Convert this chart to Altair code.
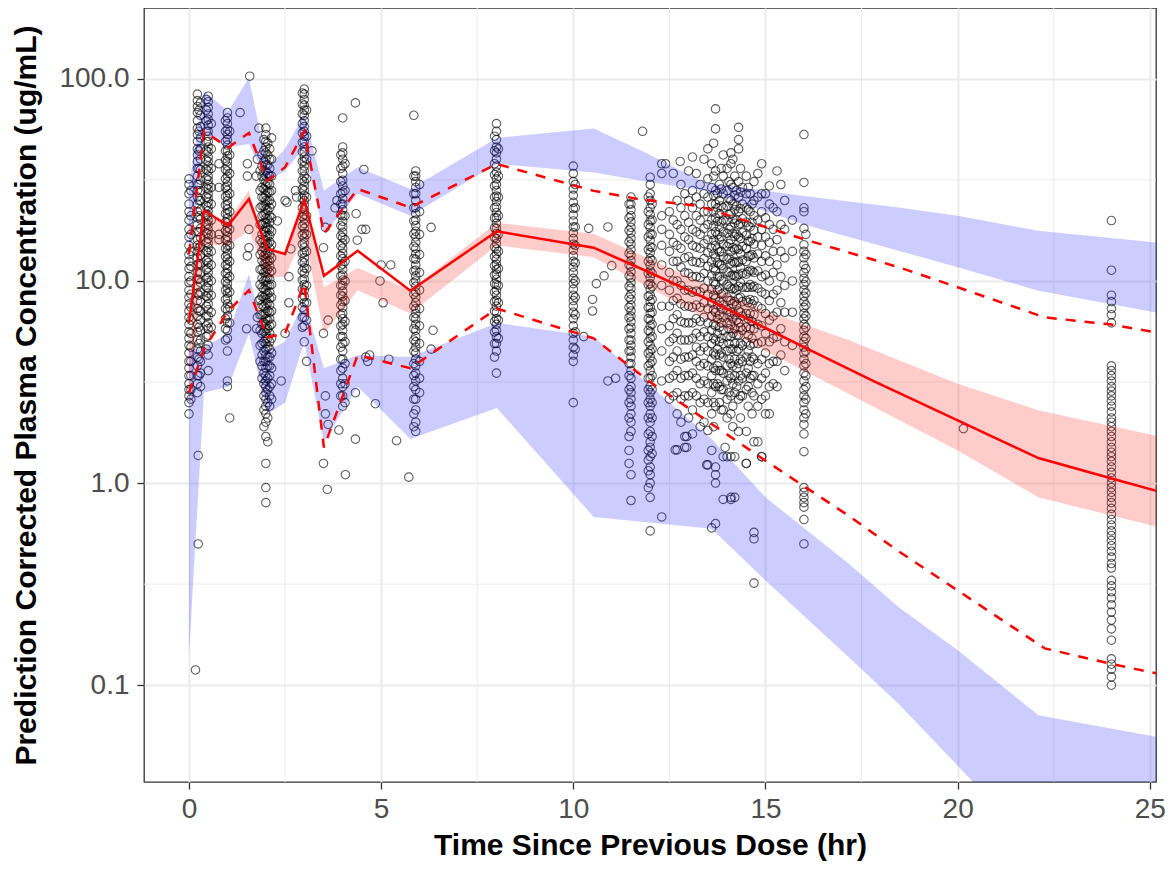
import altair as alt
import pandas as pd

conc_t000 = [32, 30, 27, 24, 22, 20, 18, 16.5, 15, 13.5, 12.5, 11.5, 10.5, 9.8, 9.0, 8.3, 7.7, 7.1, 6.6, 6.1,
             5.6, 5.2, 4.8, 4.4, 4.0, 3.7, 3.4, 3.1, 2.9, 2.7, 2.5, 2.2]
conc_t005 = [28, 21, 17, 14, 11.8, 10, 8.6, 7.4, 6.4, 5.5, 4.7, 4.0, 3.4, 2.9, 2.6]
conc_t022 = [84, 78, 73, 68, 62, 57, 53, 49, 45, 42, 39, 36, 33, 30, 28, 26, 24, 22, 20.5, 19, 17.5, 16, 15,
             14, 13, 12, 11, 10.2, 9.4, 8.7, 8.0, 7.3, 6.7, 6.1, 5.6, 5.1, 4.6, 4.2, 3.8, 3.4, 3.1, 2.8]
conc_t026 = [70, 55, 44, 36, 30, 25, 21, 17.5, 14.6, 12.2, 10.2, 8.5, 7.1, 5.9, 4.9, 4.1, 3.4]
conc_t030 = [76, 66, 58, 51, 45, 40, 35.5, 31.5, 28, 25, 22.5, 20.2, 18.2, 16.4, 14.8, 13.4, 12.1, 10.9, 9.8,
             8.8, 7.9, 7.1, 6.4, 5.7, 5.1, 4.5, 4.0, 3.5, 3.0]
conc_t045 = [79, 70, 62, 55, 49, 44, 39.5, 35.5, 32, 28.8, 26, 23.5, 21.2, 19.1, 17.2, 15.5, 14, 12.6, 11.4,
             10.3, 9.3, 8.4, 7.5, 6.7, 6.0, 5.3, 4.6]
conc_t050 = [82, 77, 72, 67, 63, 59, 55, 52, 49, 46, 43.5, 41, 39, 37, 35, 33, 31.5, 30, 28.5, 27, 25.7, 24.5,
             23.3, 22.2, 21.1, 20, 19, 18, 17.1, 16.2, 15.4, 14.6, 13.8, 13, 12.3, 11.6, 11, 10.4, 9.8, 9.2,
             8.7, 8.2, 7.7, 7.2, 6.7, 6.2, 5.8, 5.4, 4.8, 4.3, 3.6]
conc_t058 = [60, 45, 36, 29, 24, 20, 17, 14, 12, 10, 8.5, 7, 5.9]
conc_t095 = [62, 55, 49, 44, 39.5, 35.5, 32, 29, 26.2, 23.7, 21.5, 19.5, 17.7, 16, 14.5, 13.2, 12, 10.9, 9.9,
             9, 8.1, 7.3, 6.5, 5.8, 5.1]
conc_t100 = [68, 64, 60, 56, 53, 50, 47, 44, 41.5, 39, 37, 35, 33, 31, 29.5, 28, 26.5, 25, 23.8, 22.6, 21.5,
             20.4, 19.4, 18.4, 17.5, 16.6, 15.8, 15, 14.2, 13.5, 12.8, 12.1, 11.5, 10.9, 10.3, 9.7, 9.2, 8.7,
             8.2, 7.7, 7.2, 6.7, 6.2, 5.7, 5.2, 4.5, 3.2, 3.0]
conc_t106 = [55, 42, 34, 27, 22, 18, 15, 12.5, 10.5, 8.8, 7.4, 6.2, 2.1]
conc_t185 = [35, 28, 23, 19, 16, 13.5, 11.4, 9.6, 8.1, 6.8, 5.7, 4.8, 4.0]
conc_t190 = [42, 37, 33, 29, 26, 23.5, 21, 19, 17, 15.5, 14, 12.6, 11.4, 10.3, 9.3, 8.4, 7.6, 6.8, 6.1, 5.5,
             4.9, 4.3, 3.8, 3.3]
conc_t195 = [50, 44, 39, 35, 31.5, 28.5, 25.8, 23.4, 21.2, 19.3, 17.6, 16, 14.6, 13.3, 12.1, 11, 10, 9.1, 8.3,
             7.5, 6.8, 6.2, 5.6, 5.0, 4.5, 4.0, 3.5, 3.1, 2.7, 2.3, 1.9]
conc_t200 = [57, 53, 49, 46, 43, 40, 37.5, 35, 33, 31, 29.5, 28, 26.5, 25, 23.8, 22.6, 21.5, 20.4, 19.4, 18.4,
             17.5, 16.6, 15.8, 15, 14.3, 13.6, 12.9, 12.3, 11.7, 11.1, 10.5, 10, 9.5, 9, 8.5, 8.1, 7.7, 7.3,
             6.9, 6.5, 6.1, 5.8, 5.5, 5.2, 4.9, 4.6, 4.3, 4.0, 3.7, 3.4, 3.2, 3.0, 2.8, 2.6, 2.4, 2.2, 2.0,
             1.7, 1.25, 0.95, 0.8]
conc_t205 = [48, 42, 37.5, 34, 30.5, 27.5, 24.8, 22.4, 20.3, 18.4, 16.7, 15.2, 13.8, 12.5, 11.4, 10.4, 9.5, 8.6,
             7.8, 7.1, 6.4, 5.8, 5.2, 4.7, 4.2, 3.8, 3.3, 2.9, 2.5, 2.1, 1.6]
conc_t210 = [45, 40, 36, 33, 30, 27.5, 25, 23, 21, 19.5, 18, 16.8, 15.6, 14.5, 13.5, 12.6, 11.8, 11, 10.2, 9.5,
             8.8, 8.2, 7.6, 7, 6.5, 6, 5.5, 5, 4.6, 4.2, 3.8, 3.4, 3.0, 2.7, 2.4]
conc_t215 = [40, 33, 28, 24, 20.5, 17.6, 15.1, 13, 11.2, 9.6, 8.3, 7.1, 6.1, 5.2, 4.4, 3.7, 3.1, 2.6]
conc_t295 = [85, 75, 67, 60, 54, 48.5, 43.5, 39, 35, 31.5, 28.5, 25.6, 23, 20.8, 18.7, 16.9, 15.2, 13.7, 12.4,
             11.2, 10.1, 9.1, 8.2, 7.4, 6.6, 5.9]
conc_t300 = [89, 84, 79, 74, 70, 66, 62, 58, 55, 52, 49, 46, 43.5, 41, 39, 37, 35, 33, 31, 29.5, 28, 26.5, 25,
             23.8, 22.5, 21.3, 20.2, 19.2, 18.2, 17.2, 16.3, 15.4, 14.6, 13.8, 13, 12.3, 11.6, 10.9, 10.2, 9.6,
             9, 8.4, 7.8, 7.2, 6.6, 6.0, 5.0]
conc_t306 = [70, 52, 40, 32, 26, 21, 17, 14, 11.5, 9.5, 7.8, 6.4, 4.0]
conc_t395 = [42, 36, 31, 27, 24, 21.2, 18.8, 16.7, 14.9, 13.3, 11.9, 10.6, 9.5, 8.5, 7.6, 6.8, 6.0, 5.3, 4.7,
             4.1, 3.6, 3.1, 2.7]
conc_t400 = [46, 43, 40, 37, 34, 31.5, 29.5, 27.5, 25.5, 24, 22.5, 21, 19.7, 18.5, 17.4, 16.4, 15.4, 14.5, 13.7,
             12.9, 12.1, 11.4, 10.7, 10.1, 9.5, 8.9, 8.4, 7.9, 7.4, 6.9, 6.5, 6.1, 5.7, 5.3, 4.9, 4.5, 4.1,
             3.7, 3.3, 3.0, 2.7, 2.4]
conc_t406 = [38, 28, 21, 16, 12.5, 10, 8, 6.3, 5, 3.9, 3.1, 2.5]
conc_t585 = [33, 27, 23, 19.8, 17.1, 14.8, 12.9, 11.2, 9.8, 8.6, 7.5, 6.6, 5.8, 5.1, 4.5, 3.9, 3.4, 3.0, 2.6,
             2.2, 1.9]
conc_t590 = [35, 33, 31, 29, 27, 25, 23, 21.5, 20, 18.8, 17.6, 16.5, 15.5, 14.5, 13.6, 12.8, 12, 11.3, 10.6, 10,
             9.4, 8.8, 8.3, 7.8, 7.3, 6.9, 6.5, 6.1, 5.7, 5.3, 5.0, 4.7, 4.4, 4.1, 3.8, 3.5, 3.2, 2.9, 2.6, 2.3,
             2.0, 1.8]
conc_t600 = [30, 22, 17, 13.5, 11, 9, 7.3, 6, 4.9, 4, 3.3, 2.8]
conc_t795 = [52, 44, 38, 33.5, 29.5, 26, 23, 20.5, 18.3, 16.4, 14.7, 13.2, 11.9, 10.7, 9.7, 8.8, 7.9, 7.1, 6.3,
             5.6, 4.9, 4.2]
conc_t800 = [60, 55, 50, 46, 43, 40, 37, 34.5, 32, 30, 28, 26.3, 24.7, 23.2, 21.8, 20.5, 19.3, 18.2, 17.2, 16.2,
             15.3, 14.4, 13.6, 12.8, 12.1, 11.4, 10.8, 10.2, 9.6, 9.0, 8.5, 8.0, 7.5, 7.0, 6.5, 6.1, 5.7, 5.3,
             4.9, 4.5, 3.5]
conc_t805 = [45, 33, 26, 21, 17, 14, 11.5, 9.5, 7.8, 6.4, 5.2]
conc_t1000 = [37, 34, 31, 28.5, 26.5, 24.5, 22.8, 21.2, 19.8, 18.5, 17.3, 16.2, 15.2, 14.2, 13.3, 12.5, 11.7, 11,
              10.3, 9.7, 9.1, 8.5, 8, 7.5, 7.0, 6.5, 6.0, 5.5, 5.1, 4.7, 4.3, 4.0, 2.5]
conc_t1005 = [30, 23, 18.5, 15, 12.3, 10, 8.3, 6.8, 5.6, 4.6]
conc_t1145 = [24, 20.5, 17.8, 15.6, 13.7, 12, 10.6, 9.4, 8.3, 7.4, 6.6, 5.8, 5.1, 4.5, 3.9, 3.4, 2.9, 2.5, 2.1,
              1.7, 1.45, 1.25]
conc_t1150 = [26, 24, 22.5, 21, 19.6, 18.4, 17.3, 16.2, 15.2, 14.3, 13.4, 12.6, 11.8, 11.1, 10.4, 9.8, 9.2, 8.6,
              8.1, 7.6, 7.1, 6.7, 6.3, 5.9, 5.5, 5.1, 4.8, 4.5, 4.2, 3.9, 3.6, 3.3, 3.0, 2.8, 2.6, 2.4, 2.2, 2.0,
              1.8, 1.1, 0.82]
conc_t1195 = [26, 22, 19, 16.5, 14.3, 12.5, 10.9, 9.6, 8.4, 7.4, 6.5, 5.7, 5.0, 4.4, 3.8, 3.3, 2.9, 2.5, 2.1,
              1.75, 1.45, 1.3, 1.15, 0.95]
conc_t1200 = [30, 27, 25, 23, 21.3, 19.8, 18.4, 17.1, 15.9, 14.8, 13.8, 12.9, 12, 11.2, 10.4, 9.7, 9.1, 8.5, 7.9,
              7.4, 6.9, 6.4, 6.0, 5.6, 5.2, 4.8, 4.5, 4.2, 3.9, 3.6, 3.3, 3.0, 2.8, 2.6, 2.4, 2.2, 2.0, 1.8, 1.6,
              1.5, 1.35, 1.2, 1.1, 1.0, 0.85, 0.58]
conc_t1205 = [24, 20, 17, 14.6, 12.6, 10.9, 9.4, 8.1, 7.0, 6.1, 5.3, 4.6, 4.0, 3.4, 2.9, 2.5, 2.1, 1.7, 1.4]
conc_t1230 = [38, 34, 21, 18, 15, 12, 9.5, 7.5, 5.8, 4.5, 3.2, 0.68]
conc_t1250 = [22, 17, 14, 11, 9, 7.5, 6, 5, 4, 3.3, 2.6]
conc_t1260 = [20, 15.5, 12.5, 10, 8, 6.5, 5.2, 4.2, 3.4, 2.7]
conc_t1270 = [25, 19, 15, 12.5, 10, 8.2, 6.8, 5.5, 4.5, 3.6, 2.8, 2.2, 1.46]
conc_t1280 = [30, 23, 18, 14.5, 11.7, 9.5, 7.7, 6.3, 5.1, 4.1, 3.3, 2.6, 2.0]
conc_t1290 = [27, 21, 16.5, 13, 11, 9, 7.5, 6.2, 5.1, 4.2, 3.4, 2.7, 1.7, 1.5]
conc_t1300 = [35, 25, 19.5, 16, 13.2, 10.9, 9, 7.5, 6.2, 5.1, 4.2, 3.4, 2.7, 2.1]
conc_t1310 = [41, 28, 23, 18, 15, 12.5, 10.5, 8.8, 7.4, 6.2, 5.2, 4.3, 3.5, 2.8, 2.3]
conc_t1320 = [34, 26, 21, 17.5, 14.7, 12.4, 10.5, 8.9, 7.6, 6.5, 5.5, 4.7, 4.0, 3.3, 2.7]
conc_t1330 = [30, 24, 20, 17, 14.5, 12.3, 10.4, 8.8, 7.4, 6.3, 5.3, 4.5, 3.8, 3.1, 2.5, 1.9]
conc_t1340 = [40, 27, 22, 18.2, 15.3, 12.9, 10.9, 9.2, 7.8, 6.6, 5.6, 4.7, 3.9, 3.2, 2.6, 2.0]
conc_t1350 = [45, 32, 26, 22, 19, 16, 13.8, 11.8, 10, 8.6, 7.3, 6.2, 5.3, 4.5, 3.8, 3.1, 2.5, 1.82, 1.23]
conc_t1360 = [38, 29, 24, 20, 17, 14.5, 12.4, 10.6, 9.1, 7.8, 6.7, 5.7, 4.9, 4.1, 3.4, 2.8, 2.2]
conc_t1365 = [48, 33, 26.5, 22, 18.7, 15.9, 13.6, 11.6, 9.9, 8.5, 7.2, 6.1, 5.2, 4.4, 3.7, 3.1, 2.5, 1.9]
conc_t1370 = [71, 56.5, 35, 28, 24, 20.5, 17.5, 15, 13, 11.2, 9.6, 8.2, 7, 6, 5.1, 4.3, 3.6, 3.0, 2.4, 1.2, 1.0,
              0.63]
conc_t1375 = [27, 23, 19.7, 16.9, 14.4, 12.3, 10.5, 9.0, 7.6, 6.5, 5.5, 4.6, 3.8, 3.1]
conc_t1380 = [30, 25, 21.5, 18.5, 16, 13.9, 12.1, 10.5, 9.1, 7.9, 6.8, 5.9, 5.0, 4.3, 3.6, 3.0, 2.5]
conc_t1385 = [36, 28.5, 23.5, 19.6, 16.5, 14, 11.9, 10.1, 8.6, 7.3, 6.2, 5.2, 4.4, 3.6, 2.9, 2.3]
conc_t1390 = [42, 33, 27, 23, 20, 17.5, 15.2, 13.2, 11.5, 10, 8.7, 7.6, 6.6, 5.7, 4.9, 4.2, 3.5, 2.9, 2.3, 1.35,
              0.83]
conc_t1400 = [36, 28, 23.5, 20, 17.2, 14.8, 12.8, 11.1, 9.6, 8.3, 7.2, 6.2, 5.3, 4.5, 3.8, 3.2, 2.6, 2.1]
conc_t1405 = [31, 25.5, 21.3, 18, 15.3, 13, 11, 9.4, 8, 6.8, 5.8, 4.9, 4.1, 3.4, 2.8]
conc_t1410 = [43, 38, 30, 25, 21.5, 18.5, 16, 14, 12.2, 10.6, 9.2, 8, 7, 6.1, 5.3, 4.6, 3.9, 3.3, 2.7, 2.2, 1.35,
              0.85]
conc_t1415 = [40, 29, 24, 20.2, 17.2, 14.6, 12.5, 10.7, 9.1, 7.7, 6.5, 5.5, 4.6, 3.8, 3.1, 2.4, 1.9]
conc_t1420 = [33, 26.5, 22.5, 19.3, 16.6, 14.3, 12.3, 10.6, 9.2, 7.9, 6.8, 5.8, 4.9, 4.1, 3.4, 2.8]
conc_t1425 = [28, 23.5, 20, 17, 14.5, 12.4, 10.5, 9, 7.6, 6.4, 5.4, 4.5, 3.7, 3.0]
conc_t1430 = [57.5, 50, 45, 31, 26, 22, 19, 16.5, 14.3, 12.4, 10.8, 9.4, 8.2, 7.1, 6.2, 5.4, 4.6, 3.9, 3.2, 2.6,
              1.8]
conc_t1435 = [36, 27.5, 22.8, 19.2, 16.2, 13.7, 11.6, 9.8, 8.3, 7, 5.9, 4.9, 4.1, 3.4, 2.7, 2.1]
conc_t1440 = [29, 24, 20.3, 17.3, 14.8, 12.7, 10.9, 9.3, 7.9, 6.7, 5.7, 4.8, 4.0, 3.3, 2.7]
conc_t1450 = [33, 27, 23, 19.5, 16.8, 14.5, 12.5, 10.8, 9.3, 8, 6.9, 5.9, 5, 4.2, 3.5, 2.9, 1.25]
conc_t1455 = [29, 22.5, 18.7, 15.7, 13.2, 11.1, 9.3, 7.8, 6.5, 5.4, 4.5, 3.7, 3.0, 2.4]
conc_t1460 = [27, 22, 18.5, 15.7, 13.3, 11.3, 9.6, 8.1, 6.9, 5.8, 4.8, 4.0, 3.3]
conc_t1465 = [24, 19.5, 16.2, 13.5, 11.2, 9.3, 7.7, 6.3, 5.2, 4.2, 3.4, 2.8, 2.2]
conc_t1470 = [31, 25, 21, 17.8, 15.2, 13, 11, 9.4, 8, 6.8, 5.8, 4.9, 4.1, 3.4, 2.7, 1.6, 0.57, 0.53, 0.32]
conc_t1480 = [34, 26, 20, 16.5, 13.6, 11.2, 9.2, 7.5, 6.1, 4.9, 3.9, 3.1, 2.4]
conc_t1490 = [38, 27, 22, 18, 15, 12.5, 10.5, 8.8, 7.3, 6, 5, 4.1, 3.3, 2.6, 1.35]
conc_t1500 = [27, 20.5, 16.5, 13.3, 10.7, 8.6, 6.9, 5.5, 4.4, 3.5, 2.7]
conc_t1510 = [29.5, 24, 19, 15.5, 12.5, 10, 8, 6.4, 5, 3.9, 3, 2.2]
conc_t1520 = [23, 18, 14, 11, 8.6, 6.7, 5.2, 4.0, 3.1]
conc_t1530 = [35, 22, 16, 12, 9, 7, 5.3, 4, 3]
conc_t1540 = [30, 19, 14, 10.5, 7.8, 5.8, 4.3]
conc_t1550 = [25, 18, 13, 9.5, 7, 5, 3.6]
conc_t1570 = [20, 14, 10, 7, 4.8]
conc_t1600 = [53, 30.7, 23, 22, 18.2, 15.1, 14, 13, 12, 11, 10.3, 9.6, 9, 8.4, 7.9, 7.4, 6.9, 6.5, 6.1, 5.7, 5.3,
              5.0, 4.7, 4.4, 4.1, 3.8, 3.5, 3.2, 2.9, 2.7, 2.5, 2.3, 2.1, 1.95, 1.75, 1.43, 0.95, 0.9, 0.85,
              0.8, 0.76, 0.66, 0.5]
conc_t1605 = [17, 13.5, 11.5, 9.9, 8.7, 7.6, 6.7, 5.9, 5.2, 4.5, 3.9, 3.4, 3.0, 2.6, 2.2]
conc_t2400 = [19.9, 11.3, 8.5, 7.9, 7.3, 6.8, 6.2, 3.8, 3.6, 3.4, 3.2, 3.0, 2.85, 2.7, 2.55, 2.4, 2.25, 2.1, 2.0,
              1.9, 1.8, 1.7, 1.6, 1.5, 1.42, 1.35, 1.28, 1.2, 1.13, 1.06, 1.0, 0.95, 0.9, 0.85, 0.8, 0.75, 0.7,
              0.66, 0.62, 0.58, 0.55, 0.52, 0.49, 0.46, 0.43, 0.4, 0.38, 0.33, 0.31, 0.29, 0.27, 0.25, 0.23,
              0.21, 0.19, 0.167, 0.135, 0.127, 0.12, 0.11, 0.1]

col_times = [0.0, 0.05, 0.22, 0.26, 0.3, 0.45, 0.5, 0.58, 0.95, 1.0, 1.06, 1.85, 1.9, 1.95, 2.0, 2.05, 2.1, 2.15,
             2.95, 3.0, 3.06, 3.95, 4.0, 4.06, 5.85, 5.9, 6.0, 7.95, 8.0, 8.05, 10.0, 10.05, 11.45, 11.5, 11.95,
             12.0, 12.05, 12.3, 12.5, 12.6, 12.7, 12.8, 12.9, 13.0, 13.1, 13.2, 13.3, 13.4, 13.5, 13.6, 13.65,
             13.7, 13.75, 13.8, 13.85, 13.9, 14.0, 14.05, 14.1, 14.15, 14.2, 14.25, 14.3, 14.35, 14.4, 14.5,
             14.55, 14.6, 14.65, 14.7, 14.8, 14.9, 15.0, 15.1, 15.2, 15.3, 15.4, 15.5, 15.7, 16.0, 16.05, 24.0]
col_concs = [conc_t000, conc_t005, conc_t022, conc_t026, conc_t030, conc_t045, conc_t050, conc_t058, conc_t095,
             conc_t100, conc_t106, conc_t185, conc_t190, conc_t195, conc_t200, conc_t205, conc_t210, conc_t215,
             conc_t295, conc_t300, conc_t306, conc_t395, conc_t400, conc_t406, conc_t585, conc_t590, conc_t600,
             conc_t795, conc_t800, conc_t805, conc_t1000, conc_t1005, conc_t1145, conc_t1150, conc_t1195,
             conc_t1200, conc_t1205, conc_t1230, conc_t1250, conc_t1260, conc_t1270, conc_t1280, conc_t1290,
             conc_t1300, conc_t1310, conc_t1320, conc_t1330, conc_t1340, conc_t1350, conc_t1360, conc_t1365,
             conc_t1370, conc_t1375, conc_t1380, conc_t1385, conc_t1390, conc_t1400, conc_t1405, conc_t1410,
             conc_t1415, conc_t1420, conc_t1425, conc_t1430, conc_t1435, conc_t1440, conc_t1450, conc_t1455,
             conc_t1460, conc_t1465, conc_t1470, conc_t1480, conc_t1490, conc_t1500, conc_t1510, conc_t1520,
             conc_t1530, conc_t1540, conc_t1550, conc_t1570, conc_t1600, conc_t1605, conc_t2400]

# scattered individual observations
scatter_t = [0.24, 0.24, 0.17, 0.78, 0.78, 0.78, 0.78, 1.33, 1.52, 1.52, 1.56, 1.56, 1.52, 1.5, 1.58,
             1.82, 1.78, 1.75, 1.82, 1.78, 1.76, 2.15, 2.5, 2.55, 2.65, 2.6, 2.6, 2.3, 2.5, 2.4, 2.77, 2.8, 3.2,
             3.55, 3.5, 3.62, 3.85, 3.8, 3.5, 3.55, 3.55, 3.62, 3.9, 3.5, 3.6, 4.07,
             4.33, 4.0, 4.35, 4.38, 4.5, 4.6, 4.6, 4.65, 4.33, 4.33, 4.85, 4.55, 4.97, 5.05, 5.25, 5.0, 4.7, 5.2,
             5.4, 5.72, 5.85, 6.3, 6.35, 6.3,
             10.4, 10.9, 11.0, 10.8, 10.6, 10.5, 10.5, 10.27, 10.9, 11.1, 11.8, 12.0,
             12.4, 12.6, 12.78, 12.65, 12.95, 12.95, 13.1, 13.47, 13.7, 14.1, 14.2, 13.6, 14.0, 14.2, 14.5,
             14.9, 14.8, 14.5, 13.95, 13.6, 15.0, 20.15]
scatter_c = [1.37, 0.5, 0.119, 38, 29, 17, 16, 68, 38, 33, 18, 14.6, 13.3, 5.8, 103,
             57, 40, 33, 8.0, 6.6, 5.8, 51, 25, 24.5, 14.4, 10.5, 7.8, 19.8, 5.5, 3.2, 28, 26, 44,
             18.4, 14.6, 6.4, 25, 23, 5.5, 2.7, 2.2, 1.95, 1.83, 1.25, 0.93, 1.1,
             76, 64, 21.5, 15.9, 18, 18, 4.2, 4.0, 2.8, 1.65, 2.47, 35.6, 10, 7.8, 12, 12, 4.3, 4.1,
             1.62, 1.07, 66, 18.4, 5.7, 4.6,
             18.2, 18.5, 11.9, 10.6, 9.7, 8.1, 7.1, 5.3, 3.2, 3.3, 55, 32.6,
             38, 34, 39, 1.46, 1.5, 1.7, 1.75, 1.23, 1.1, 0.83, 0.85, 0.6, 1.35, 1.35, 1.25,
             1.35, 1.6, 1.8, 1.5, 1.45, 2.2, 1.86]

# ---------------- simulated confidence intervals (ribbons) ----------------
med_ci_t = [0, 0.39, 1.02, 1.56, 2.04, 2.5, 3.0, 3.51, 4.39, 5.76, 8.01, 10.53, 15.0, 17.16, 20.0, 22.1, 25.3]
med_ci_lo = [2.5, 15, 15, 17.7, 10.4, 10.5, 17, 5.5, 9, 6.9, 15, 13.1, 4.5, 2.77, 1.45, 0.85, 0.6]
med_ci_hi = [4.5, 20.5, 20, 28, 13.6, 14, 25, 9.3, 11.6, 9.0, 19.4, 17.1, 7.1, 5.1, 3.1, 2.29, 1.69]

p95_ci_t = [0, 0.39, 1.02, 1.56, 2.04, 2.5, 3.0, 3.51, 4.39, 5.76, 8.01, 10.53, 11.9, 13.4, 16.0, 18.46, 20.0,
            22.1, 25.3]
p95_ci_lo = [12, 53, 45.7, 47.6, 31, 35, 45.7, 17.1, 27, 21, 38, 34.4, 31, 28, 19, 14.1, 11.7, 8.95, 6.9]
p95_ci_hi = [30, 87, 69, 101, 36.5, 45, 67, 28, 36.5, 28.5, 51, 56.8, 43, 30.7, 26.3, 23.1, 21, 17.7, 15.4]

p05_ci_t = [0, 0.39, 1.02, 1.56, 2.04, 2.5, 3.0, 3.51, 4.39, 5.76, 8.01, 10.53, 13.6, 15.0, 17.16, 18.46, 20.0,
            22.1, 25.3]
p05_ci_lo = [0.14, 2.8, 3.0, 5.5, 2.2, 2.5, 5.0, 1.6, 3.0, 1.65, 2.35, 0.68, 0.594, 0.33, 0.138, 0.081, 0.04,
             0.015, 0.01]
p05_ci_hi = [4.5, 4.7, 5.5, 10.8, 4.5, 5.0, 8.0, 3.7, 4.3, 4.2, 6.2, 5.3, 1.65, 0.85, 0.4, 0.244, 0.149, 0.071,
             0.055]

# ---------------- observed percentile lines ----------------
obs_med_t = [0, 0.39, 1.02, 1.56, 2.04, 2.5, 3.0, 3.51, 4.39, 5.76, 8.01, 10.53, 11.9, 13.4, 16.0, 17.8, 20.0,
             22.1, 23.96, 25.3]
obs_med_c = [6.2, 22.3, 18.8, 25.4, 14.4, 13.6, 25.2, 10.6, 14.1, 8.95, 17.6, 14.6, 11.2, 8.3, 4.7, 3.2, 2.04,
             1.33, 1.06, 0.9]
obs_p95_t = [0, 0.39, 1.02, 1.56, 2.04, 2.5, 3.0, 3.51, 4.39, 5.76, 8.01, 10.53, 11.7, 13.26, 15.99, 18.46,
             20.0, 22.27, 23.96, 25.3]
obs_p95_c = [13.6, 55, 45.7, 54, 31.3, 36.5, 55, 17.1, 28.5, 23.1, 37.9, 27.9, 25.4, 23.5, 16.1, 11.7, 9.3,
             6.6, 6.1, 5.5]
obs_p05_t = [0, 0.39, 1.02, 1.56, 2.04, 2.5, 3.0, 3.51, 4.39, 5.76, 8.01, 10.53, 11.96, 15.0, 17.16, 18.46,
             20.0, 22.27, 23.96, 25.3]
obs_p05_c = [2.8, 4.6, 7.1, 9.0, 5.25, 5.5, 9.7, 1.5, 4.3, 3.7, 7.3, 5.2, 3.2, 1.29, 0.69, 0.46, 0.294, 0.152,
             0.128, 0.113]

# axis tick values and minor grid positions
x_ticks = [0, 5, 10, 15, 20, 25]
y_ticks = [0.1, 1, 10, 100]
x_minor = [2.5, 7.5, 12.5, 17.5, 22.5]
y_minor = [0.3162, 3.162, 31.62]

# ---------------- build tables ----------------
rows = []
for t, vals in zip(col_times, col_concs):
    for v in vals:
        rows.append((t, v))
for t, v in zip(scatter_t, scatter_c):
    rows.append((t, v))
obs = pd.DataFrame(rows, columns=["time", "conc"])


def band(ts, lo, hi):
    return pd.DataFrame({"time": ts, "lo": lo, "hi": hi})


def line(ts, cs):
    return pd.DataFrame({"time": ts, "conc": cs})


W, H = 1012, 774
xs = alt.Scale(domain=[-1.17, 25.16], nice=False, zero=False)
ys = alt.Scale(type="log", domain=[0.0332, 224], nice=False)

x_axis = alt.Axis(values=x_ticks, title="Time Since Previous Dose (hr)", grid=True,
                  labelPadding=6, titleY=48, titleBaseline="top", labelFlush=False)
y_axis = alt.Axis(values=y_ticks, title="Prediction Corrected Plasma Concentration (ug/mL)", grid=True,
                  labelExpr="format(datum.value, '.1f')", labelPadding=8, titleX=-103, titleY=H / 2,
                  titleBaseline="bottom", labelFlush=False)


def X(f="time"):
    return alt.X(f + ":Q", scale=xs, axis=x_axis)


def Y(f):
    return alt.Y(f + ":Q", scale=ys, axis=y_axis)


grid_x = alt.Chart(pd.DataFrame({"time": x_minor})).mark_rule(color="#EBEBEB", strokeWidth=1).encode(x=X())
grid_y = alt.Chart(pd.DataFrame({"conc": y_minor})).mark_rule(color="#EBEBEB", strokeWidth=1).encode(y=Y("conc"))

points = alt.Chart(obs).mark_point(shape="circle", filled=False, stroke="black", strokeWidth=1.1,
                                   size=72, opacity=0.62, clip=True).encode(x=X(), y=Y("conc"))


def area(df, color):
    return alt.Chart(df).mark_area(color=color, opacity=0.2, clip=True).encode(
        x=X(), y=Y("lo"), y2="hi:Q")


a_med = area(band(med_ci_t, med_ci_lo, med_ci_hi), "#FF0000")
a_p95 = area(band(p95_ci_t, p95_ci_lo, p95_ci_hi), "#0000FF")
a_p05 = area(band(p05_ci_t, p05_ci_lo, p05_ci_hi), "#0000FF")

l_med = alt.Chart(line(obs_med_t, obs_med_c)).mark_line(color="#FF0000", strokeWidth=2.5, clip=True).encode(
    x=X(), y=Y("conc"))
l_p95 = alt.Chart(line(obs_p95_t, obs_p95_c)).mark_line(color="#FF0000", strokeWidth=2.5, strokeDash=[10, 9],
                                                        clip=True).encode(x=X(), y=Y("conc"))
l_p05 = alt.Chart(line(obs_p05_t, obs_p05_c)).mark_line(color="#FF0000", strokeWidth=2.5, strokeDash=[10, 9],
                                                        clip=True).encode(x=X(), y=Y("conc"))

chart = alt.layer(grid_x, grid_y, points, a_med, a_p95, a_p05, l_p05, l_p95, l_med).properties(
    width=W, height=H,
    autosize=alt.AutoSizeParams(type="none"),
    padding={"left": 136, "top": 0, "right": 10, "bottom": 79},
    background="white",
).configure_view(
    stroke="#333333", strokeWidth=1.3
).configure_axis(
    labelFont="Liberation Sans", labelFontSize=28, labelColor="#4D4D4D",
    titleFont="Liberation Sans", titleFontSize=30, titleFontWeight="bold", titleColor="black",
    tickColor="#333333", tickWidth=1.3, tickSize=7, domain=False,
    gridColor="#EBEBEB", gridWidth=2, labelOverlap=False
)

chart.save("out.html", embed_options={"renderer": "svg", "actions": False})
